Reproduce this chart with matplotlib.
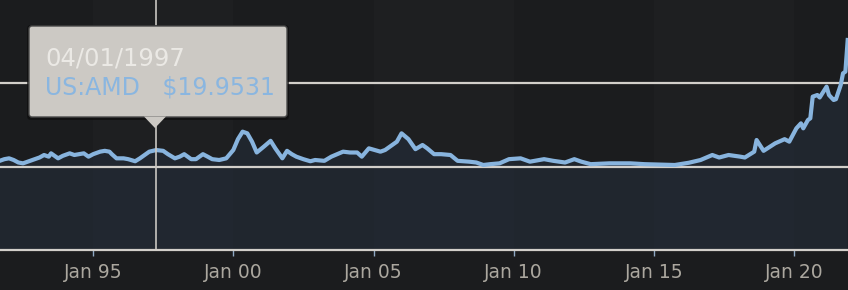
import numpy as np
import pandas as pd
import matplotlib
matplotlib.use("Agg")
from matplotlib import pyplot as plt
import matplotlib.dates as mdates
from matplotlib.patches import FancyBboxPatch, Polygon
from matplotlib.transforms import IdentityTransform

# AMD 月度收盘价
dates = ['1991-09', '1991-11', '1992-01', '1992-03', '1992-05', '1992-07', '1992-10', '1992-12',
         '1993-02', '1993-04', '1993-06', '1993-07', '1993-10', '1993-12', '1994-03', '1994-05',
         '1994-07', '1994-09', '1994-11', '1995-01', '1995-04', '1995-06', '1995-08', '1995-09',
         '1995-11', '1996-02', '1996-04', '1996-07', '1996-09', '1996-11', '1997-01', '1997-04',
         '1997-07', '1997-09', '1997-12', '1998-02', '1998-04', '1998-07', '1998-09', '1998-12',
         '1999-02', '1999-04', '1999-07', '1999-10', '2000-01', '2000-03', '2000-05', '2000-07',
         '2000-09', '2000-11', '2001-02', '2001-05', '2001-07', '2001-10', '2001-12', '2002-02',
         '2002-04', '2002-07', '2002-10', '2002-12', '2003-04', '2003-07', '2003-12', '2004-03',
         '2004-06', '2004-08', '2004-11', '2005-04', '2005-06', '2005-09', '2005-11', '2006-01',
         '2006-04', '2006-07', '2006-10', '2006-12', '2007-03', '2007-06', '2007-10', '2008-01',
         '2008-06', '2008-09', '2008-12', '2009-03', '2009-07', '2009-11', '2010-04', '2010-08',
         '2011-02', '2011-06', '2011-11', '2012-03', '2012-06', '2012-10', '2013-06', '2014-03',
         '2014-09', '2015-10', '2016-04', '2016-09', '2017-02', '2017-05', '2017-09', '2018-02',
         '2018-04', '2018-08', '2018-09', '2018-12', '2019-05', '2019-09', '2019-11', '2020-02',
         '2020-04', '2020-05', '2020-07', '2020-08', '2020-09', '2020-11', '2020-12', '2021-03',
         '2021-04', '2021-06', '2021-07', '2021-09', '2021-10', '2021-11', '2021-12']
prices = [7, 9, 10, 8, 5, 4, 7, 9,
          11, 14, 12, 16, 10, 13, 16, 14,
          15, 16, 12, 15, 18, 19, 18, 15,
          10, 10, 9, 6.5, 10, 14, 18, 19.95,
          19, 15, 10, 12, 15, 9, 9, 15,
          12, 9, 8, 10, 20, 33, 42, 40,
          30, 17, 24, 31, 22, 10, 19, 15,
          12, 9, 6.5, 8, 7, 12, 18, 17,
          17, 12, 22, 18, 20, 26, 30, 40,
          33, 21, 26, 22, 15, 15, 14, 7,
          6, 5, 2, 3, 4, 9, 10, 6,
          9, 7, 5, 9, 6, 3, 4, 4,
          3, 2, 4.7, 8, 14, 11, 14, 12,
          11, 18, 32, 19, 28, 33, 30, 46,
          52, 46, 56, 58, 84, 86, 83, 96,
          86, 80, 81, 98, 112, 114, 152]
band_years = [1995, 2005, 2015]   # 浅色竖条起始年份（每段5年）
tip_date = '1997-04'
tip_label = '04/01/1997'
tip_value = 'US:AMD   $19.9531'

x = pd.to_datetime(dates, format='%Y-%m')

bg = '#1b1c1e'
fig = plt.figure(figsize=(8.48, 2.9), dpi=100, facecolor=bg)
ax = fig.add_axes([0, 40 / 290, 1, 250 / 290])
ax.set_facecolor(bg)

# 背景竖条
for y0 in band_years:
    ax.axvspan(pd.Timestamp(f'{y0}-01-01'), pd.Timestamp(f'{y0 + 5}-01-01'),
               color='#1e1f21', zorder=0, lw=0)

# 面积 + 网格 + 折线
ax.fill_between(x, prices, -100, color='#25303f', alpha=0.5, lw=0, zorder=1)
for gy in [0, 100]:
    ax.axhline(gy, color='#d2cfca', lw=1.6, zorder=2)
ax.plot(x, prices, color='#88b4de', lw=3.0, zorder=3, solid_joinstyle='round')

# 十字线
ax.axvline(pd.Timestamp(tip_date), color='#c9c6c1', lw=1.2, zorder=4)

ax.set_ylim(-100, 200)
ax.set_xlim(pd.Timestamp('1991-09-05'), pd.Timestamp('2021-12-05'))
ax.set_yticks([])
for s in ['top', 'left', 'right']:
    ax.spines[s].set_visible(False)
ax.spines['bottom'].set_color('#d2cfca')
ax.spines['bottom'].set_linewidth(1.6)
ax.spines['bottom'].set_zorder(5)

ax.xaxis.set_major_locator(mdates.YearLocator(5))
ax.xaxis.set_major_formatter(mdates.DateFormatter('%b %y'))
ax.tick_params(axis='x', colors='#8fa9c4', length=4, width=1, pad=5,
               labelcolor='#aba79f', labelsize=13.5)

# 提示框（像素坐标）
tr = IdentityTransform()
H = 290
shadow = FancyBboxPatch((27, H - 120), 262, 95, boxstyle='round,pad=0,rounding_size=4',
                        transform=tr, facecolor='#0d0d0e', edgecolor='none', alpha=0.7,
                        zorder=6)
fig.patches.append(shadow)
box = FancyBboxPatch((29, H - 117), 258, 91, boxstyle='round,pad=0,rounding_size=3',
                     transform=tr, facecolor='#ccc9c4', edgecolor='#4a4a4a', lw=1.0,
                     zorder=7)
fig.patches.append(box)
tri = Polygon([(144, H - 116.5), (166, H - 116.5), (155, H - 128)], closed=True,
              transform=tr, facecolor='#ccc9c4', edgecolor='none', zorder=8)
fig.patches.append(tri)
fig.text(45, H - 58, tip_label, transform=tr, color='#ebe9e5', fontsize=17.5,
         va='center', ha='left', zorder=9)
fig.text(45, H - 88, tip_value, transform=tr, color='#8ab6e0', fontsize=17,
         va='center', ha='left', zorder=9)

fig.savefig('out.png', dpi=100, facecolor=bg)
